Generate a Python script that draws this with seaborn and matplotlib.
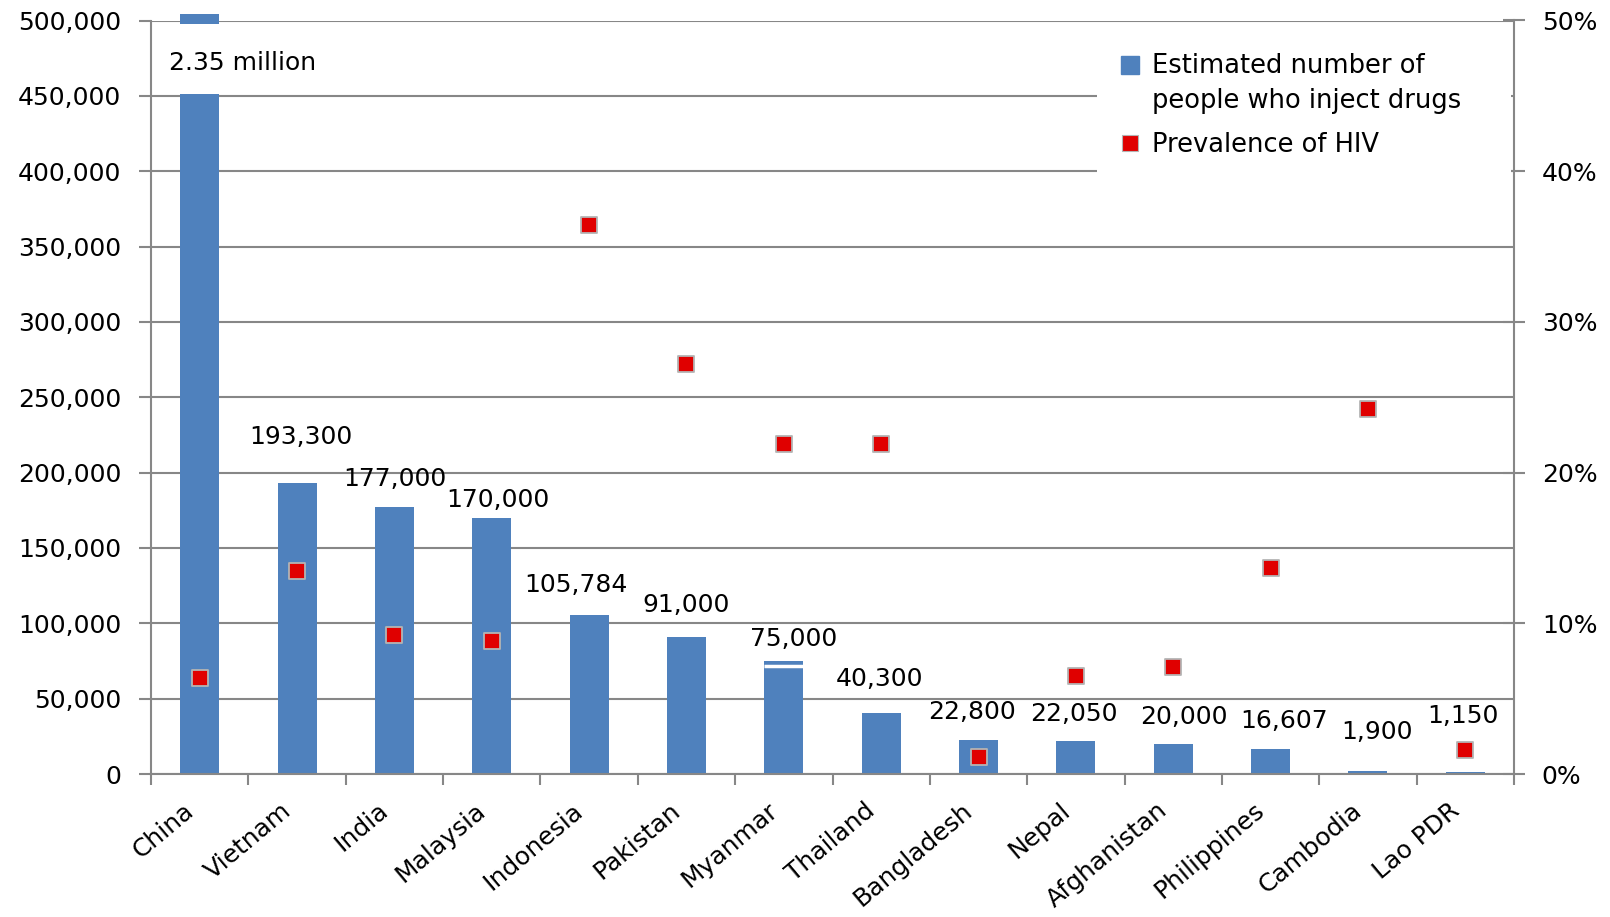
import numpy as np
import matplotlib
matplotlib.use("Agg")
import matplotlib.pyplot as plt
from matplotlib.lines import Line2D
from matplotlib.legend_handler import HandlerLine2D
from matplotlib.patches import Rectangle
from matplotlib.ticker import FuncFormatter, PercentFormatter, FixedLocator
from matplotlib.transforms import Bbox, TransformedBbox, ScaledTranslation
import seaborn as sns

# ---- data -------------------------------------------------------------
countries = ["China", "Vietnam", "India", "Malaysia", "Indonesia", "Pakistan",
             "Myanmar", "Thailand", "Bangladesh", "Nepal", "Afghanistan",
             "Philippines", "Cambodia", "Lao PDR"]
people_who_inject = [2350000, 193300, 177000, 170000, 105784, 91000, 75000,
                     40300, 22800, 22050, 20000, 16607, 1900, 1150]
hiv_prevalence = [0.064, 0.135, 0.092, 0.088, 0.364, 0.272, 0.219, 0.219,
                  0.011, 0.065, 0.071, 0.137, 0.242, 0.016]
count_ticks = [0, 50000, 100000, 150000, 200000, 250000, 300000, 350000,
               400000, 450000, 500000]
share_ticks = [0.0, 0.1, 0.2, 0.3, 0.4, 0.5]
legend_labels = ["Estimated number of\npeople who inject drugs",
                 "Prevalence of HIV"]

# label placement (points, relative to the top of each bar)
label_dx = [31, 3, 0, 4.4, -9.6, 0, 7.4, -1.5, -5, -1.5, 8, 9.6, 6.7, -2]
label_dy = [22.5, 33, 20, 12.5, 21.5, 23, 16, 25, 20, 19.5, 19.5, 20, 28, 40.5]

# axis-break used for the out-of-range first bar
break_low, break_high, break_cap = 451000, 497500, 504000

BLUE = "#4F81BD"
RED = "#E00000"
GRID = "#878787"

sns.set_style("white")
plt.rcParams["font.family"] = ["DejaVu Sans"]
plt.rcParams["text.color"] = "black"

fig = plt.figure(figsize=(16.1, 9.17), dpi=100)
fig.patch.set_facecolor("white")
ax = fig.add_axes([151 / 1610, 1 - 774 / 917, (1514 - 151) / 1610, (774 - 20.5) / 917])

# bars: estimated number of people who inject drugs
sns.barplot(x=countries, y=people_who_inject, color=BLUE, saturation=1,
            width=0.4, linewidth=0, errorbar=None, ax=ax, zorder=2)
ax.set_xlim(-0.5, len(countries) - 0.5)
ax.set_ylim(0, count_ticks[-1])

# broken first bar: white gap plus a short stub above the top gridline
first_bar = ax.patches[0]
first_bar.set_clip_box(TransformedBbox(
    Bbox([[-1, -1e7], [len(countries), break_cap]]), ax.transData))
ax.add_patch(Rectangle((first_bar.get_x() - 0.01, break_low),
                       first_bar.get_width() + 0.02, break_high - break_low,
                       facecolor="white", edgecolor="none", zorder=2.5))

# thin white seam on the Myanmar bar
seam_bar = ax.patches[countries.index("Myanmar")]
ax.hlines(71700, seam_bar.get_x(), seam_bar.get_x() + seam_bar.get_width(),
          color="white", lw=2.5, zorder=2.6)

# value labels
for i, v in enumerate(people_who_inject):
    if i == 0:
        text = f"{v / 1e6:.2f} million"
        y = break_low
    else:
        text = f"{v:,}"
        y = v
    ax.annotate(text, xy=(i, y), xytext=(label_dx[i], label_dy[i]),
                textcoords="offset points", ha="center", va="center",
                fontsize=18, color="black", zorder=4)

# left axis styling
ax.yaxis.set_major_locator(FixedLocator(count_ticks))
ax.yaxis.set_major_formatter(FuncFormatter(lambda v, _: f"{int(v):,}"))
ax.grid(axis="y", color=GRID, lw=1.5)
ax.grid(axis="x", visible=False)
ax.set_axisbelow(True)
for side in ("top", "right"):
    ax.spines[side].set_visible(False)
for side in ("left", "bottom"):
    ax.spines[side].set_color(GRID)
    ax.spines[side].set_linewidth(1.5)
ax.tick_params(axis="y", which="major", direction="out", length=8.5, width=1.5,
               color=GRID, pad=13, labelsize=18, labelcolor="black", left=True)

# category boundaries as minor ticks, labels on the centres
ax.set_xticks(np.arange(len(countries)))
ax.set_xticklabels(countries, rotation=40, ha="right", va="center",
                   rotation_mode="anchor", fontsize=18)
ax.set_xticks(np.arange(len(countries) + 1) - 0.5, minor=True)
ax.tick_params(axis="x", which="major", length=0, pad=24, labelcolor="black")
ax.tick_params(axis="x", which="minor", direction="out", length=8, width=1.5,
               color=GRID, bottom=True)
shift = ScaledTranslation(-9 / 100, 0, fig.dpi_scale_trans)
for lbl in ax.get_xticklabels():
    lbl.set_transform(lbl.get_transform() + shift)
ax.set_xlabel("")
ax.set_ylabel("")

# secondary axis: HIV prevalence
ax2 = ax.twinx()
sns.scatterplot(x=np.arange(len(countries)), y=hiv_prevalence, marker="s",
                s=135, color=RED, edgecolor="#B4B4B4", linewidth=1.3,
                ax=ax2, zorder=5, legend=False)
ax2.set_ylim(share_ticks[0], share_ticks[-1])
ax2.yaxis.set_major_locator(FixedLocator(share_ticks))
ax2.yaxis.set_major_formatter(PercentFormatter(1.0, decimals=0))
ax2.grid(False)
for side in ("top", "left", "bottom"):
    ax2.spines[side].set_visible(False)
ax2.spines["right"].set_color(GRID)
ax2.spines["right"].set_linewidth(1.5)
ax2.spines["right"].set_zorder(12)
ax2.tick_params(axis="y", direction="inout", length=16, width=1.5, color=GRID,
                pad=12, labelsize=18, labelcolor="black", right=True)
ax2.set_ylabel("")


class RaisedMarker(HandlerLine2D):
    """Marker handle lifted to sit beside the first line of a two-line label."""

    def __init__(self, dy=0.0, **kw):
        super().__init__(**kw)
        self.dy = dy

    def create_artists(self, legend, orig_handle, xdescent, ydescent, width,
                       height, fontsize, trans):
        arts = super().create_artists(legend, orig_handle, xdescent, ydescent,
                                      width, height, fontsize, trans)
        for a in arts:
            x, y = a.get_data()
            a.set_data(x, np.asarray(y, dtype=float) + self.dy)
        return arts


h_bar = Line2D([], [], marker="s", linestyle="none", markersize=13.5,
               markerfacecolor=BLUE, markeredgecolor=BLUE)
h_pt = Line2D([], [], marker="s", linestyle="none", markersize=12,
              markerfacecolor=RED, markeredgecolor="#B4B4B4", markeredgewidth=0.8)
leg_x0, leg_x1, leg_top, leg_h = 1097 / 1610, 1511 / 1610, 1 - 30 / 917, 155 / 917
leg = ax2.legend([h_bar, h_pt], legend_labels, loc="upper left",
                 bbox_to_anchor=(leg_x0, leg_top - leg_h, leg_x1 - leg_x0, leg_h),
                 bbox_transform=fig.transFigure, mode="expand", frameon=True,
                 facecolor="white", edgecolor="none", framealpha=1,
                 fancybox=False, borderpad=0.9, handlelength=0.8,
                 handletextpad=0.45, labelspacing=0.7, borderaxespad=0,
                 fontsize=18.5, numpoints=1,
                 handler_map={h_bar: RaisedMarker(dy=14)})
for t in leg.get_texts():
    t.set_linespacing(1.45)
leg.set_zorder(10)

fig.savefig("out.png", dpi=100, facecolor="white")
